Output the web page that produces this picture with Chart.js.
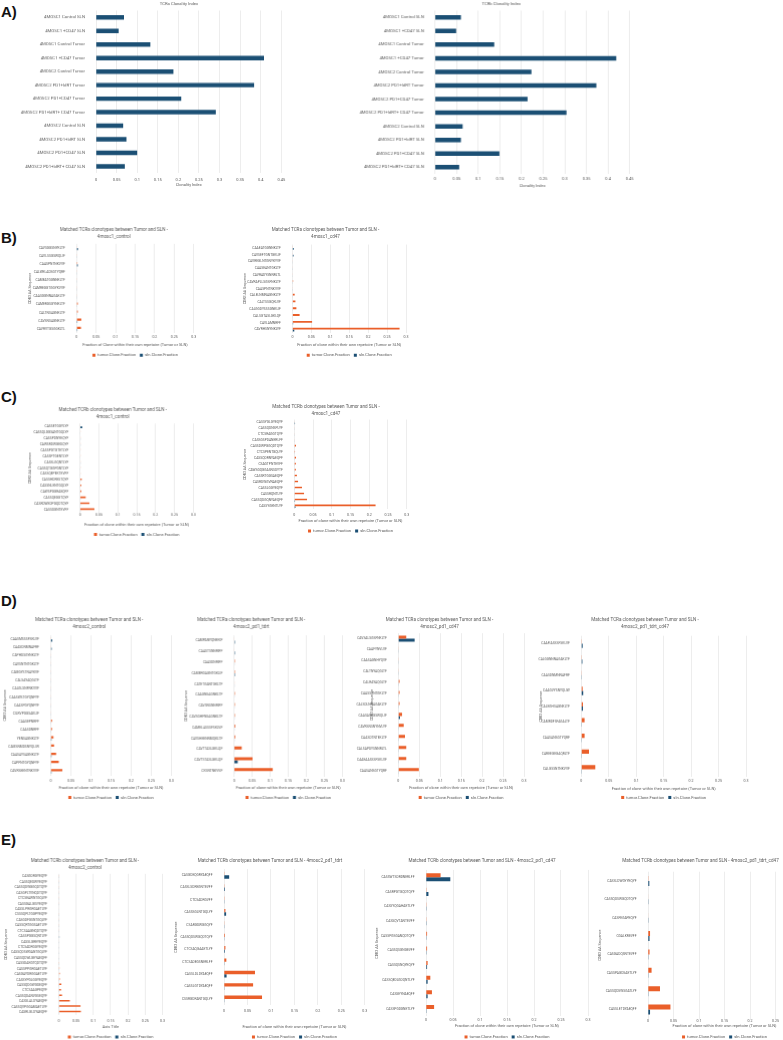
<!DOCTYPE html>
<html>
<head>
<meta charset="utf-8">
<script src="https://cdn.jsdelivr.net/npm/chart.js@4.4.0/dist/chart.umd.min.js"></script>
<style>
  html, body { margin: 0; padding: 0; background: #fff; width: 783px; height: 1040px; overflow: hidden; position: relative; }
  .box { position: absolute; }
  .tag { position: absolute; font: bold 15px "Liberation Sans", Arial, sans-serif; line-height: 1; color: #111; }
</style>
</head>
<body>
<div class="tag" style="left:1px;top:4px">A)</div>
<div class="tag" style="left:1px;top:230px">B)</div>
<div class="tag" style="left:1px;top:389px">C)</div>
<div class="tag" style="left:1px;top:593px">D)</div>
<div class="tag" style="left:1px;top:832px">E)</div>
<script>
// ── Data ───────────────────────────────────────────────────────────────────
const aSamples = ['4MOSC1 Control SLN', '4MOSC1 +CD47 SLN', '4MOSC1 Control Tumor', '4MOSC1 +CD47 Tumor',
  '4MOSC2 Control Tumor', '4MOSC2 PD1+ldRT Tumor', '4MOSC2 PD1+CD47 Tumor', '4MOSC2 PD1+ldRT+ CD47 Tumor',
  '4MOSC2 Control SLN', '4MOSC2 PD1+ldRT SLN', '4MOSC2 PD1+CD47 SLN', '4MOSC2 PD1+ldRT+ CD47 SLN'];
const aTcra = [0.068, 0.055, 0.132, 0.408, 0.188, 0.384, 0.207, 0.291, 0.066, 0.074, 0.100, 0.070];
const aTcrb = [0.060, 0.049, 0.137, 0.419, 0.223, 0.373, 0.214, 0.304, 0.064, 0.060, 0.149, 0.056];

const bCtrlSeq = ['CAVSGGSNYKLTF', 'CAVLSSGSWQLIF', 'CAASPNTNKVVF', 'CALWELADSGTYQRF', 'CAMEATGGNNKLTF',
  'CAMREGGTGGYKVVF', 'CAASGGNNAGAKLTF', 'CAMERGSGYNKLTF', 'CALTNSAGNKLTF', 'CAVSNSAGNKLTF', 'CAVRVTGSGGKLTL'];
const bCtrlTumor = [0.0005, 0.0005, 0.002, 0.001, 0.001, 0.001, 0.001, 0.003, 0.003, 0.012, 0.011];
const bCtrlSln = [0.0035, 0.001, 0.003, 0.001, 0.001, 0.001, 0.001, 0.001, 0.001, 0.002, 0.002];

const bCd47Seq = ['CAAEATGGNNKLTF', 'CAVSEFTGNTGKLIF', 'CAVREGLNTGNYKYVF', 'CAASEANTGKLTF', 'CAVRADYSNNRLTL',
  'CAVRAPLLSGSFNKLTF', 'CAASPNTNKVVF', 'CALELNMNAGNKLTF', 'CALTSSGQKLVF', 'CALGGDYSSSGNKLIF',
  'CALSGTASLGKLQF', 'CAVLAMNRFF', 'CAVRHSNYNKLYF'];
const bCd47Tumor = [0.0005, 0.001, 0.001, 0.001, 0.001, 0.002, 0.001, 0.006, 0.008, 0.0105, 0.019, 0.052, 0.283];
const bCd47Sln = [0.0035, 0.003, 0.001, 0.0005, 0.001, 0.0005, 0.0005, 0.001, 0.001, 0.001, 0.001, 0.002, 0.005];

const cCtrlSeq = ['CASSETGGYLYF', 'CASSQLGGSANTGQLYF', 'CASSPDNYEQYF', 'CAWSRDWGEDQYF', 'CASSPGTGTETLYF',
  'CASSPTGENTLYF', 'CASSLGQNTLYF', 'CASSQTGGPGNTLYF', 'CASSQEPEKTEVFF', 'CASSHDRESTQYF',
  'CASSNLENTGQLYF', 'CAWSPGGRAEQFF', 'CASSQEGGTQYF', 'CASRDWEDPGQDTQYF', 'CASSDGNTEVFF'];
const cCtrlTumor = [0.0005, 0.001, 0.001, 0.001, 0.001, 0.001, 0.001, 0.001, 0.001, 0.0045, 0.0035, 0.0035, 0.015, 0.025, 0.038];
const cCtrlSln = [0.006, 0.0005, 0.001, 0.001, 0.0005, 0.0005, 0.001, 0.0005, 0.0005, 0.001, 0.0005, 0.0005, 0.001, 0.001, 0.001];

const cCd47Seq = ['CASSYGLGYEQYF', 'CASSQDNSPLYF', 'CTCSRAGGTQYF', 'CASSGSPDANERLFF', 'CASSDWPGGQDTQYF',
  'CTCSPENTGQLYF', 'CASSQDRNYAEQFF', 'CSAGTPNTEVFF', 'CAWSGQGGASNSDYTF', 'CASSRTGGSAEQFF',
  'CASRDWGVNAEQFF', 'CASSLGGYEQYF', 'CASSRQNTLYF', 'CASSQDGQNYAEQFF', 'CASSYGENTLYF'];
const cCd47Tumor = [0.001, 0.001, 0.001, 0.001, 0.0045, 0.002, 0.0045, 0.004, 0.004, 0.007, 0.010, 0.0205, 0.026, 0.034, 0.217];
const cCd47Sln = [0.002, 0.001, 0.001, 0.001, 0.001, 0.001, 0.001, 0.001, 0.001, 0.001, 0.001, 0.001, 0.001, 0.002, 0.003];

const dCtrlSeq = ['CAASMSSSFSKLVF', 'CAASDNMNAFRF', 'CAPHDSGYNKLTF', 'CAVSNTNTGKLTF', 'CAMGYSTNAYKVF',
  'CALSAYAQGLTF', 'CALGLSNFNKVVF', 'CAASWSTGYQNFYF', 'CAASPGYQNFYF', 'CILRVPGGSAKLIF', 'CAASEPNRFF',
  'CAASDNRFF', 'YENSAGNKLTF', 'CAMSNMDSNYQLIW', 'CAASAYSAGNKLTF', 'CAPPNTGYQNFYF', 'CAVRSEENTNKVVF'];
const dCtrlTumor = [0.0005, 0.0005, 0.001, 0.001, 0.001, 0.001, 0.001, 0.001, 0.001, 0.001, 0.0035, 0.0035, 0.007, 0.0085, 0.0135, 0.020, 0.029];
const dCtrlSln = [0.004, 0.0025, 0.001, 0.001, 0.001, 0.001, 0.001, 0.001, 0.001, 0.001, 0.001, 0.001, 0.002, 0.001, 0.002, 0.001, 0.002];

const dTdrtSeq = ['CAMPANYQNEKIF', 'CAASTSNNRIFF', 'CAASDNRIFF', 'CAMERGAGNTGKLIF', 'CATETGANTGKLTF',
  'CAAGNSAGNKLTF', 'CAVSNSNNRIFF', 'CAVSGHFNSAGNKLTF', 'CAMELASSSFSKLVF', 'CAVSHEENNMQKLTF',
  'CAVTTASLGKLQF', 'CAVTSTASLGKLQF', 'CKSNTNKVVF'];
const dTdrtTumor = [0.0005, 0.0005, 0.002, 0.002, 0.001, 0.002, 0.002, 0.002, 0.003, 0.003, 0.021, 0.051, 0.107];
const dTdrtSln = [0.002, 0.002, 0.001, 0.002, 0.001, 0.001, 0.001, 0.001, 0.001, 0.001, 0.001, 0.010, 0.001];

const dCd47Seq = ['CAVSALSGSFNKLTF', 'CAAFYNVLVF', 'CAASAGNHYQVF', 'CALTNYAQGLTF', 'CALRAYAQGLTF',
  'CAASSTNTGKLTF', 'CALSDLNNAGAKLTF', 'CAASASSGSWQLIF', 'CAVRSNSNYNVLYF', 'CAASDTNTEKLTF',
  'CALSAPDYSNNRLTL', 'CAAEAASSSFSKLVF', 'CAASANSGTYQRF'];
const dCd47Tumor = [0.019, 0.001, 0.001, 0.001, 0.003, 0.003, 0.003, 0.009, 0.013, 0.016, 0.019, 0.019, 0.049];
const dCd47Sln = [0.039, 0.001, 0.001, 0.001, 0.001, 0.001, 0.001, 0.004, 0.001, 0.001, 0.001, 0.001, 0.001];

const dComboSeq = ['CAAFIASSSFSKLVF', 'CALGGNNNAGAKLTF', 'CAASDNMNNAFRF', 'CAAGVYSNYQLIW', 'CALEGHSAGNKLTF',
  'CAMRDFSFAGALTF', 'CAASANSGTYQRF', 'CAREEGEGAQRLTF', 'CALGSSNTNKVVF'];
const dComboTumor = [0.001, 0.001, 0.0002, 0.0025, 0.003, 0.006, 0.006, 0.014, 0.0255];
const dComboSln = [0.0025, 0.002, 0.001, 0.0035, 0.003, 0.001, 0.001, 0.001, 0.001];

const eCtrlSeq = ['CASGDRGYEQYF', 'CASSQEDWYEQYF', 'CASSQDWGGQDTQYF', 'CASGPLTVNQDTQYF', 'CTCSEAWNTGQLYF',
  'CASSGALGISYEQYF', 'CASSLPRGRGAETLYF', 'CSSSQPLTGGPYEQYF', 'CASGDFGSNTGQLYF', 'CASSQRTGGSAETLYF',
  'CTCSAAGNQDTQYF', 'CASSPGGSQNTLYF', 'CASSLGREYEQYF', 'CTCSADRGGYEQYF', 'CASSQDSWGANTGQLYF',
  'CASSQDWLGEYAEQFF', 'CASSDAKGTQDTQYF', 'CASSPPGRGAETLYF', 'CASGAYDRGGAETLYF', 'CASSYPGLGGYEQYF',
  'CASSQDGWGDEQFF', 'CTCSAAGPEQYF', 'CASSQDANVGSEQYF', 'CASSLALDYAEQFF', 'CASSQVPGGAMAETLYF', 'CASRLGLDYAEQFF'];
const eCtrlTumor = [0.0005, 0.0005, 0.0005, 0.0005, 0.0005, 0.0005, 0.001, 0.0005, 0.0005, 0.0005, 0.0005, 0.001, 0.001,
  0.001, 0.001, 0.001, 0.0015, 0.002, 0.003, 0.003, 0.0075, 0.0065, 0.0095, 0.032, 0.063, 0.064];
const eCtrlSln = [0.0005, 0.0005, 0.0005, 0.0005, 0.0005, 0.0005, 0.001, 0.0005, 0.0005, 0.0005, 0.0005, 0.002, 0.0005,
  0.0005, 0.0005, 0.0005, 0.0005, 0.0005, 0.001, 0.0005, 0.0005, 0.0005, 0.0005, 0.001, 0.0005, 0.0005];

const eTdrtSeq = ['CASGDEQGRYAEQFF', 'CASSLSDREGNTEVFF', 'CTCSADRGVFF', 'CASSSGLNTGQLYF', 'CSARGDWGGQYF',
  'CASSQDSWGQDTQYF', 'CTCSAQGAAETLYF', 'CTCSADEGSNERLFF', 'CASSLDLDYAEQFF', 'CASSLGTDYAEQFF', 'CSSRGDRANTGQLYF'];
const eTdrtTumor = [0.0002, 0.0002, 0.0002, 0.003, 0.0003, 0.002, 0.003, 0.005, 0.066, 0.062, 0.081];
const eTdrtSln = [0.011, 0.002, 0.001, 0.0045, 0.001, 0.001, 0.002, 0.001, 0.0055, 0.001, 0.001];

const eCd47Seq = ['CASSWTSDRDNERLFF', 'CASRPGTGQDTQYF', 'CASSYQGAHAETLYF', 'CASSQVTANTEVFF', 'CASSPGSGANQDTQYF',
  'CASSQSGNGEVFF', 'CASSQSNQYEQYF', 'CASSQEDLGDQNTLYF', 'CASSEYNAEQFF', 'CASSPGDGNETLYF'];
const eCd47Tumor = [0.027, 0.001, 0.0002, 0.0002, 0.002, 0.002, 0.003, 0.008, 0.011, 0.015];
const eCd47Sln = [0.045, 0.0045, 0.001, 0.001, 0.001, 0.001, 0.002, 0.003, 0.003, 0.001];

const eComboSeq = ['CASSLDWGYYEQYF', 'CASSQDSWGQDTQYF', 'CASFEGAPEQYF', 'CGALKREVFF', 'CASGADQSNTEVFF',
  'CASSPAGDSAETLYF', 'CASSQDSWSGATLYF', 'CASSLETDYAEQFF'];
const eComboTumor = [0.0002, 0.0005, 0.0005, 0.004, 0.003, 0.007, 0.0235, 0.044];
const eComboSln = [0.0026, 0.001, 0.001, 0.003, 0.001, 0.001, 0.001, 0.004];

// ── Style ─────────────────────────────────────────────────────────────────
const FONT = "Roboto, 'Liberation Sans', sans-serif";
const TXT = '#595959';
const GRID = '#e1e1e1';
const ORANGE = '#ea5f2a';
const BLUE = '#1b4f74';
const LEG_FONT = 4.1, LEG_PAD = 4, LEG_BOX = 3;
const FRACTION = 'Fraction of clone within their own repetoire (Tumor or SLN)';

const tickText = (v) => String(Math.round(v * 100) / 100);

/** Build one chart: geometry in page pixels is turned into box sizes and paddings */
function build(s, labels, datasets) {
  const n = labels.length;
  const band = (s.rN - s.r0) / (n - 1);
  const pt = s.r0 - band / 2, pb = s.rN + band / 2;
  const tF = s.tF || 4.6, tLH = s.tLH || 6.5;
  const yF = s.yF || 3.3, xF = s.xF || 3.6, axF = s.axF || 4;
  const nT = Array.isArray(s.title) ? s.title.length : 1;
  const top = s.tY - tLH / 2;
  const itemH = Math.max(LEG_FONT, LEG_BOX);
  const legTop = s.lgY != null ? s.lgY - LEG_PAD - itemH / 2 : null;
  const bottom = legTop != null ? legTop + itemH + LEG_PAD + 10 : s.axY + axF * 0.6 + 1;
  const xBottom = legTop != null ? legTop : bottom;
  const right = Math.max(s.x1 + 6, 2 * s.tc - s.Lmax);
  const L = 2 * s.tc - right;

  const div = document.createElement('div');
  div.className = 'box';
  Object.assign(div.style, {
    left: L + 'px', top: top + 'px', width: (right - L) + 'px', height: (bottom - top) + 'px',
  });
  const canvas = document.createElement('canvas');
  div.appendChild(canvas);
  document.body.appendChild(div);

  new Chart(canvas, {
    type: 'bar',
    data: { labels, datasets },
    options: {
      indexAxis: 'y',
      responsive: true,
      maintainAspectRatio: false,
      animation: false,
      layout: { padding: 0 },
      plugins: {
        tooltip: { enabled: false },
        title: {
          display: true, text: s.title, color: TXT,
          font: { family: FONT, size: tF, weight: 'normal', lineHeight: tLH / tF },
          padding: { top: 0, bottom: pt - top - nT * tLH },
        },
        legend: {
          display: s.lgY != null, position: 'bottom', fullSize: false,
          labels: { boxWidth: LEG_BOX, boxHeight: LEG_BOX, padding: LEG_PAD, color: TXT, font: { family: FONT, size: LEG_FONT } },
        },
      },
      scales: {
        x: {
          min: 0, max: s.max || 0.3,
          afterFit: (sc) => { sc.height = xBottom - pb; },
          ticks: {
            stepSize: 0.05, autoSkip: false, maxRotation: 0, color: TXT, callback: tickText,
            padding: Math.max(0, s.tickY - pb - xF * 0.6),
            font: { family: FONT, size: xF, lineHeight: 1.2 },
          },
          grid: { color: GRID, lineWidth: 0.6, drawTicks: false },
          border: { display: false },
          title: {
            display: true, text: s.xTitle || FRACTION, color: TXT,
            font: { family: FONT, size: axF, lineHeight: 1.2 },
            padding: { top: 0, bottom: Math.max(0, xBottom - s.axY - axF * 0.6) },
          },
        },
        y: {
          afterFit: (sc) => { sc.width = s.x0 - L; },
          ticks: { autoSkip: false, padding: s.yPad || 3.5, color: TXT, font: { family: FONT, size: yF } },
          grid: { display: false },
          border: { display: false },
          title: s.yTitleX != null ? {
            display: true, text: 'CDR3 AA Sequence', color: TXT,
            font: { family: FONT, size: 3.6, lineHeight: 1.2 },
            padding: { top: s.yTitleX - L - 2.16, bottom: 0 },
          } : { display: false },
        },
        yR: {
          type: 'category', position: 'right',
          afterFit: (sc) => { sc.width = right - s.x1; },
          ticks: { display: false }, grid: { display: false }, border: { display: false },
        },
      },
    },
  });
}

function single(data) {
  return [{ data, yAxisID: 'y', backgroundColor: BLUE, categoryPercentage: 0.33, barPercentage: 1 }];
}
function pair(tumor, sln) {
  return [
    { label: 'tumor.Clone.Fraction', data: tumor, yAxisID: 'y', backgroundColor: ORANGE, categoryPercentage: 0.55, barPercentage: 1 },
    { label: 'sln.Clone.Fraction', data: sln, yAxisID: 'y', backgroundColor: BLUE, categoryPercentage: 0.55, barPercentage: 1 },
  ];
}

const aTag = ['Matched TCRa clonotypes between Tumor and SLN -'];
const bTag = ['Matched TCRb clonotypes between Tumor and SLN -'];

// ── A) clonality ──────────────────────────────────────────────────────────
build({ title: 'TCRa Clonality Index', xTitle: 'Clonality Index', max: 0.45, Lmax: 16, x0: 96, x1: 281.3, tc: 179, tY: 4.2,
  r0: 17.7, rN: 166, tickY: 179, axY: 184.5, tF: 4.2, tLH: 5.5, yF: 4.3, xF: 4, axF: 4, yPad: 3 }, aSamples, single(aTcra));
build({ title: 'TCRb Clonality Index', xTitle: 'Clonality Index', max: 0.45, Lmax: 355, x0: 434.7, x1: 628.7, tc: 500.8, tY: 4.2,
  r0: 17.7, rN: 166.7, tickY: 178.7, axY: 185.3, tF: 4.2, tLH: 5.5, yF: 4.3, xF: 4, axF: 4, yPad: 3 }, aSamples, single(aTcrb));

// ── B) TCRa 4mosc1 ────────────────────────────────────────────────────────
build({ title: [...aTag, '4mosc1_control'], xTitle: 'Fraction of Clone within their own repetoire (Tumor or SLN)',
  Lmax: 27, x0: 76.3, x1: 192.7, tc: 113.3, tY: 230, r0: 247.7, rN: 328.7, tickY: 337.3, axY: 344.3, lgY: 355, yTitleX: 30 },
  bCtrlSeq, pair(bCtrlTumor, bCtrlSln));
build({ title: [...aTag, '4mosc1_cd47'], Lmax: 242, x0: 292.7, x1: 406.3, tc: 325.8, tY: 230, r0: 247.7, rN: 329.3,
  tickY: 337.3, axY: 344.3, lgY: 355, yTitleX: 245 }, bCd47Seq, pair(bCd47Tumor, bCd47Sln));

// ── C) TCRb 4mosc1 ────────────────────────────────────────────────────────
build({ title: [...bTag, '4mosc1_control'], Lmax: 27, x0: 80, x1: 192.7, tc: 112.5, tY: 410.7, r0: 426.7, rN: 509.7,
  tickY: 514.3, axY: 524, lgY: 534, yTitleX: 30 }, cCtrlSeq, pair(cCtrlTumor, cCtrlSln));
build({ title: [...bTag, '4mosc1_cd47'], Lmax: 242, x0: 294, x1: 406.7, tc: 325.7, tY: 407, r0: 422.3, rN: 506,
  tickY: 515, axY: 520.3, lgY: 530.7, yTitleX: 245 }, cCd47Seq, pair(cCd47Tumor, cCd47Sln));

// ── D) TCRa 4mosc2 ────────────────────────────────────────────────────────
build({ title: [...aTag, '4mosc2_control'], Lmax: 2.5, x0: 50.7, x1: 170.7, tc: 89, tY: 620.7, r0: 639.7, rN: 771,
  tickY: 780.7, axY: 787, lgY: 797, yTitleX: 5 }, dCtrlSeq, pair(dCtrlTumor, dCtrlSln));
build({ title: [...aTag, '4mosc2_pd1_tdrt'], Lmax: 184, x0: 234, x1: 341.7, tc: 251, tY: 620.7, r0: 641, rN: 770.7,
  tickY: 781, axY: 787, lgY: 797, yTitleX: 186.7 }, dTdrtSeq, pair(dTdrtTumor, dTdrtSln));
build({ title: [...aTag, '4mosc2_pd1_cd47'], Lmax: 369, x0: 398.3, x1: 524, tc: 439.5, tY: 620.7, r0: 639, rN: 770.7,
  tickY: 781, axY: 787, lgY: 797, yTitleX: 371.7 }, dCd47Seq, pair(dCd47Tumor, dCd47Sln));
build({ title: [...aTag, '4mosc2_pd1_tdrt_cd47'], Lmax: 538, x0: 581.3, x1: 746, tc: 645, tY: 620.7, r0: 644, rN: 769,
  tickY: 781, axY: 788, lgY: 797, yTitleX: 541 }, dComboSeq, pair(dComboTumor, dComboSln));

// ── E) TCRb 4mosc2 ────────────────────────────────────────────────────────
build({ title: [...bTag, '4mosc2_control'], xTitle: 'Axis Title', Lmax: 3, x0: 58.3, x1: 161.7, tc: 84.3, tY: 861,
  r0: 876.3, rN: 1012, tickY: 1020.7, axY: 1027, lgY: 1036.7, yTitleX: 6 }, eCtrlSeq, pair(eCtrlTumor, eCtrlSln));
build({ title: 'Matched TCRb clonotypes between Tumor and SLN - 4mosc2_pd1_tdrt', Lmax: 173, x0: 224, x1: 365, tc: 270, tY: 861,
  r0: 875, rN: 998.7, tickY: 1010.7, axY: 1026.3, lgY: 1036.7, yTitleX: 176 }, eTdrtSeq, pair(eTdrtTumor, eTdrtSln));
build({ title: 'Matched TCRb clonotypes between Tumor and SLN - 4mosc2_pd1_cd47', Lmax: 374, x0: 425.7, x1: 587.7, tc: 481.7, tY: 861,
  r0: 877, rN: 1008.7, tickY: 1020.3, axY: 1026, lgY: 1036.7, yTitleX: 377 }, eCd47Seq, pair(eCd47Tumor, eCd47Sln));
build({ title: 'Matched TCRb clonotypes between Tumor and SLN - 4mosc2_pd1_tdrt_cd47', Lmax: 598, x0: 648.3, x1: 801.3, tc: 700.8, tY: 861,
  r0: 880.7, rN: 1009.3, tickY: 1020.7, axY: 1026, lgY: 1036.7, yTitleX: 600.7 }, eComboSeq, pair(eComboTumor, eComboSln));
</script>
</body>
</html>
